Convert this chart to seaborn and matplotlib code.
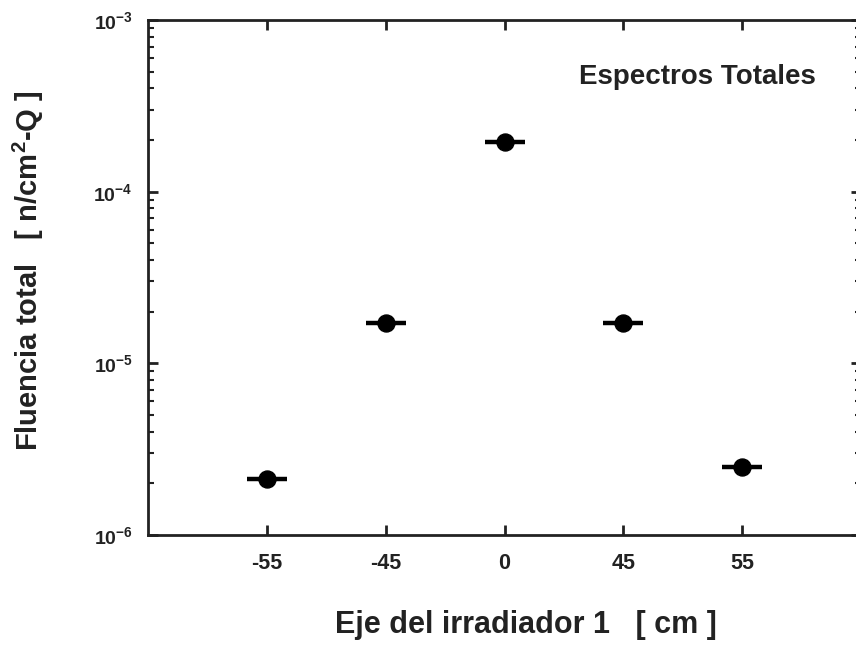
import math
import matplotlib
matplotlib.use("Agg")
import matplotlib.pyplot as plt
import seaborn as sns
import pandas as pd
from matplotlib.ticker import LogLocator, FuncFormatter, NullFormatter

positions = ["-55", "-45", "0", "45", "55"]
fluence = [2.12e-6, 1.72e-5, 1.95e-4, 1.72e-5, 2.49e-6]

df = pd.DataFrame({"pos": positions, "fluence": fluence})

sns.set_style("white")
plt.rcParams["font.family"] = ["Liberation Sans", "DejaVu Sans"]
plt.rcParams["mathtext.fontset"] = "custom"
plt.rcParams["mathtext.rm"] = "Liberation Sans"
plt.rcParams["mathtext.bf"] = "Liberation Sans:bold"

fig = plt.figure(figsize=(8.56, 6.45), dpi=100)
ax = fig.add_axes([148 / 856, 1 - 535 / 645, (861 - 148) / 856, (535 - 20) / 645])

sns.scatterplot(data=df, x="pos", y="fluence", marker="_", s=820, linewidth=3.2,
                color="black", ax=ax, zorder=3)
sns.scatterplot(data=df, x="pos", y="fluence", marker="o", s=150,
                color="black", edgecolor="black", ax=ax, zorder=4)

ax.set_yscale("log")
ax.set_ylim(1e-6, 1e-3)
ax.set_xlim(-1, 5)

ax.yaxis.set_major_locator(LogLocator(base=10, numticks=10))
ax.yaxis.set_minor_locator(LogLocator(base=10, subs=range(2, 10), numticks=20))
ax.yaxis.set_minor_formatter(NullFormatter())
ax.yaxis.set_major_formatter(FuncFormatter(
    lambda v, p: r"$\mathbf{10^{-%d}}$" % abs(round(math.log10(v)))))

for sp in ax.spines.values():
    sp.set_visible(True)
    sp.set_color("#222222")
    sp.set_linewidth(2.0)

ax.tick_params(axis="both", which="major", direction="in", length=7, width=2,
               top=True, right=True, left=True, bottom=True,
               color="#222222", labelcolor="#222222")
ax.tick_params(axis="y", which="major", labelsize=14, pad=11)
ax.tick_params(axis="y", which="minor", direction="in", length=4, width=1.5,
               left=True, right=True, color="#222222")
ax.tick_params(axis="x", which="major", labelsize=15.5, pad=13)
for lab in ax.get_xticklabels():
    lab.set_fontweight("bold")

ax.set_xlabel("Eje del irradiador 1   [ cm ]", fontsize=22, fontweight="bold",
              labelpad=26, color="#222222")
ax.xaxis.label.set_x((526 - 148) / 713)
ax.set_ylabel(r"Fluencia total   [ n/cm$^{\mathbf{2}}$-Q ]", fontsize=21,
              fontweight="bold", labelpad=34, color="#222222")
ax.yaxis.label.set_y((535 - 271) / 515)

ax.text((697.5 - 148) / 713, (535 - 77) / 515, "Espectros Totales",
        transform=ax.transAxes, fontsize=20, fontweight="bold",
        ha="center", va="center", color="#222222")

fig.savefig("out.png", dpi=100)
